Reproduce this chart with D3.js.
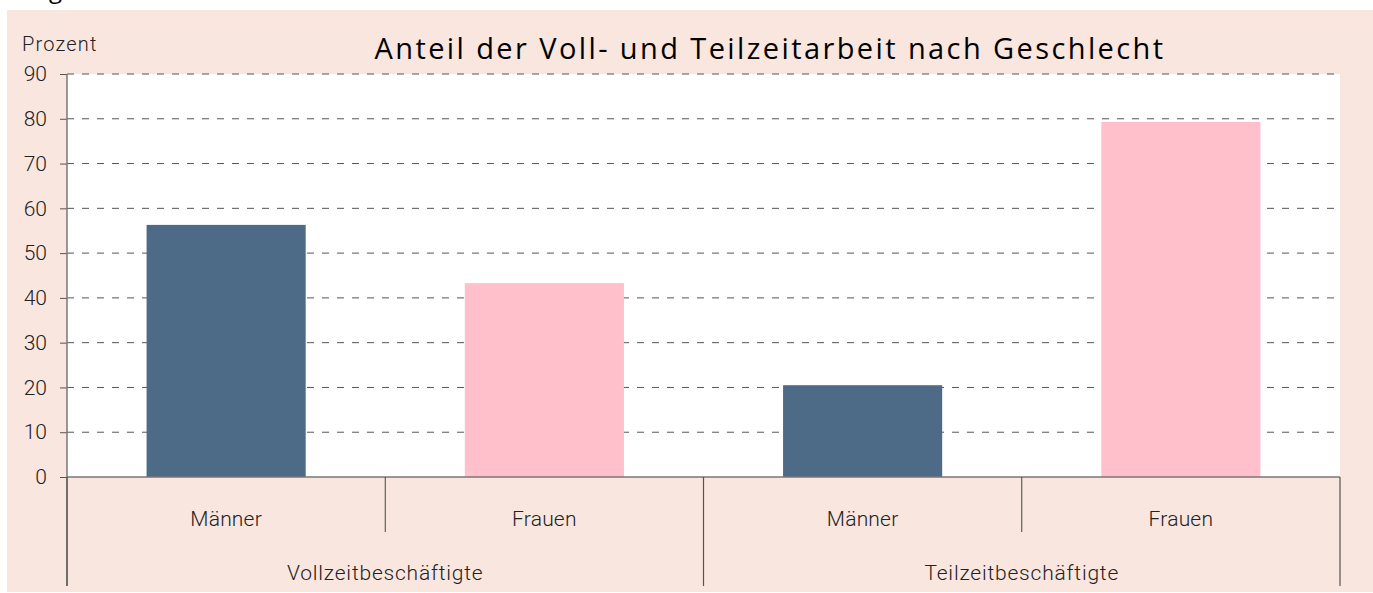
<!DOCTYPE html>
<html><head><meta charset="utf-8">
<script src="https://cdn.jsdelivr.net/npm/d3@7"></script>
<style>
html,body{margin:0;padding:0;background:#fff;}
svg{display:block;}
</style></head>
<body>
<svg id="chart" width="1373" height="593"></svg>
<script>
const groups = ["Vollzeitbeschäftigte", "Teilzeitbeschäftigte"];
const genders = ["Männer", "Frauen"];
const values = [56.3, 43.3, 20.5, 79.3]; // Voll-M, Voll-F, Teil-M, Teil-F
const yTicks = [0, 10, 20, 30, 40, 50, 60, 70, 80, 90];
const colors = ["#4d6a87", "#ffc0cb"];
const title = "Anteil der Voll- und Teilzeitarbeit nach Geschlecht";
const yLabel = "Prozent";

(function () {
const data = [];
groups.forEach((g, gi) => genders.forEach((s, si) => data.push({key: gi + "-" + si, group: g, gender: s, gi, si, value: values[gi * 2 + si]})));

const svg = d3.select("#chart");
const font = "Roboto, 'Open Sans', sans-serif";

svg.append("rect").attr("x", 7).attr("y", 10).attr("width", 1373 - 7).attr("height", 582).attr("fill", "#f9e6df");
svg.append("text").attr("x", 62).attr("y", -2).attr("text-anchor", "end")
  .attr("font-family", "'Open Sans', sans-serif").attr("font-size", 24).attr("fill", "#000").text("Abbildung");

const pl = 67, pr = 1340, pt = 74, pb = 477;
const x = d3.scaleBand().domain(data.map(d => d.key)).range([pl, pr]).padding(0);
const xg = d3.scaleBand().domain(groups).range([pl, pr]).padding(0);
const y = d3.scaleLinear().domain([0, 90]).range([pb, pt]);

svg.append("rect").attr("x", pl).attr("y", pt).attr("width", pr - pl).attr("height", pb - pt).attr("fill", "#fff");

// grid
svg.append("g").selectAll("line").data(yTicks.filter(t => t > 0)).join("line")
  .attr("x1", pl).attr("x2", pr).attr("y1", d => y(d)).attr("y2", d => y(d))
  .attr("stroke", "#555").attr("stroke-width", 1).attr("stroke-dasharray", "7,8");

// bars
const bw = x.bandwidth();
svg.append("g").selectAll("rect").data(data).join("rect")
  .attr("x", d => x(d.key) + bw * 0.25).attr("width", bw * 0.5)
  .attr("y", d => y(d.value)).attr("height", d => y(0) - y(d.value))
  .attr("fill", d => colors[d.si]);

// y axis
const ya = svg.append("g").attr("transform", `translate(${pl},0)`)
  .call(d3.axisLeft(y).tickValues(yTicks).tickSize(7).tickPadding(13).tickFormat(d3.format("d")));
ya.select(".domain").remove();
ya.selectAll(".tick line").attr("stroke", "#555");
ya.selectAll(".tick text").attr("font-family", font).attr("font-weight", 300).attr("font-size", 21).attr("fill", "#222");
svg.append("line").attr("x1", pl).attr("x2", pl).attr("y1", pt).attr("y2", 586).attr("stroke", "#777").attr("stroke-width", 1.5);
svg.append("line").attr("x1", pl).attr("x2", pr).attr("y1", pb).attr("y2", pb).attr("stroke", "#777").attr("stroke-width", 1.5);

// category separators
const minor = data.filter(d => d.si === 1).map(d => x(d.key));
svg.append("g").selectAll("line").data(minor).join("line")
  .attr("x1", d => d).attr("x2", d => d).attr("y1", pb).attr("y2", 532).attr("stroke", "#444").attr("stroke-width", 1);
const major = groups.map(g => xg(g) + xg.bandwidth()).concat([pl]);
svg.append("g").selectAll("line").data(major).join("line")
  .attr("x1", d => d).attr("x2", d => d).attr("y1", pb).attr("y2", 586).attr("stroke", "#555").attr("stroke-width", 1.2);

// category labels
svg.append("g").selectAll("text").data(data).join("text")
  .attr("x", d => x(d.key) + bw / 2).attr("y", 526).attr("text-anchor", "middle")
  .attr("font-family", font).attr("font-weight", 300).attr("font-size", 21).attr("fill", "#222")
  .attr("letter-spacing", 0.2).text(d => d.gender);
svg.append("g").selectAll("text").data(groups).join("text")
  .attr("x", d => xg(d) + xg.bandwidth() / 2).attr("y", 580).attr("text-anchor", "middle")
  .attr("font-family", font).attr("font-weight", 300).attr("font-size", 21).attr("fill", "#222")
  .attr("letter-spacing", 0.8).text(d => d);

svg.append("text").attr("x", 22).attr("y", 51).attr("font-family", font).attr("font-weight", 300)
  .attr("font-size", 20).attr("fill", "#222").attr("letter-spacing", 1.2).text(yLabel);
svg.append("text").attr("x", 770).attr("y", 59).attr("text-anchor", "middle")
  .attr("font-family", "'Open Sans', sans-serif").attr("font-weight", 500).attr("font-size", 29)
  .attr("letter-spacing", 2.4).attr("fill", "#000").text(title);
})();
</script>
</body></html>
